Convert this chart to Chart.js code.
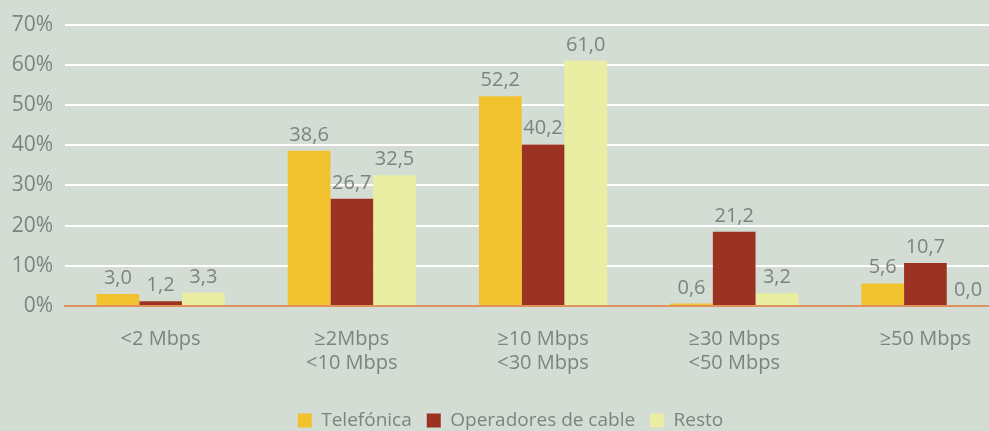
<!DOCTYPE html>
<html lang="es">
<head>
  <meta charset="UTF-8">
  <title>Velocidad de acceso</title>
  <style>
    html, body { margin: 0; padding: 0; background: #d4ddd4; overflow: hidden; }
    #chart { display: block; }
  </style>
</head>
<body>

<canvas id="chart" width="1021" height="440"></canvas>

<script src="https://cdn.jsdelivr.net/npm/chart.js"></script>
<script>
  // categorías de velocidad
  const categorias = ['<2 Mbps', ['≥2Mbps', '<10 Mbps'], ['≥10 Mbps', '<30 Mbps'], ['≥30 Mbps', '<50 Mbps'], '≥50 Mbps'];

  // alturas de las barras tal como aparecen en el gráfico
  const telefonica = [3.0, 38.6, 52.2, 0.6, 5.6];
  const cable = [1.2, 26.7, 40.2, 18.5, 10.7];
  const resto = [3.3, 32.5, 61.0, 3.2, 0.0];

  // etiquetas impresas encima de cada barra
  const etqTelefonica = ['3,0', '38,6', '52,2', '0,6', '5,6'];
  const etqCable = ['1,2', '26,7', '40,2', '21,2', '10,7'];
  const etqResto = ['3,3', '32,5', '61,0', '3,2', '0,0'];

  const ticksY = [0, 10, 20, 30, 40, 50, 60, 70];

  const gris = '#7e8282';
  const fuente = "'Open Sans', sans-serif";

  // dibuja los valores encima de las barras
  const etiquetas = {
    id: 'etiquetas',
    afterDatasetsDraw(chart) {
      const ctx = chart.ctx;
      ctx.save();
      ctx.font = '20px ' + fuente;
      ctx.fillStyle = gris;
      ctx.textAlign = 'center';
      ctx.textBaseline = 'alphabetic';
      chart.data.datasets.forEach((ds, i) => {
        chart.getDatasetMeta(i).data.forEach((bar, j) => {
          ctx.fillText(ds.etiquetas[j], bar.x, bar.y - 10);
        });
      });
      ctx.restore();
    }
  };

  new Chart(document.getElementById('chart').getContext('2d'), {
    type: 'bar',
    data: {
      labels: categorias,
      datasets: [
        { label: 'Telefónica', data: telefonica, etiquetas: etqTelefonica, backgroundColor: '#f2c12e' },
        { label: 'Operadores de cable', data: cable, etiquetas: etqCable, backgroundColor: '#9c3322' },
        { label: 'Resto', data: resto, etiquetas: etqResto, backgroundColor: '#eaeea2' }
      ]
    },
    options: {
      responsive: false,
      animation: false,
      categoryPercentage: 0.67,
      barPercentage: 1.0,
      layout: { padding: { top: 24, left: 0, right: 0, bottom: 0 } },
      plugins: {
        tooltip: { enabled: false },
        legend: {
          position: 'bottom',
          labels: {
            color: gris,
            font: { family: fuente, size: 19 },
            boxWidth: 14,
            boxHeight: 14,
            padding: 15
          }
        }
      },
      scales: {
        x: {
          grid: { display: false, drawTicks: false },
          border: { display: true, color: '#e0925c', width: 2 },
          ticks: { color: gris, font: { family: fuente, size: 20 }, padding: 21, maxRotation: 0 },
          afterFit(scale) { scale.height = 90; }
        },
        y: {
          min: 0,
          max: 70,
          afterBuildTicks(scale) { scale.ticks = ticksY.map(v => ({ value: v })); },
          afterFit(scale) { scale.width = 65; },
          grid: {
            color: ctx => ctx.tick && ctx.tick.value === 0 ? '#e0925c' : '#ffffff',
            lineWidth: 2,
            drawTicks: false
          },
          border: { display: false },
          ticks: {
            color: gris,
            font: { family: fuente, size: 21 },
            padding: 12,
            callback: v => v + '%'
          }
        }
      }
    },
    plugins: [etiquetas]
  });
</script>

</body>
</html>
